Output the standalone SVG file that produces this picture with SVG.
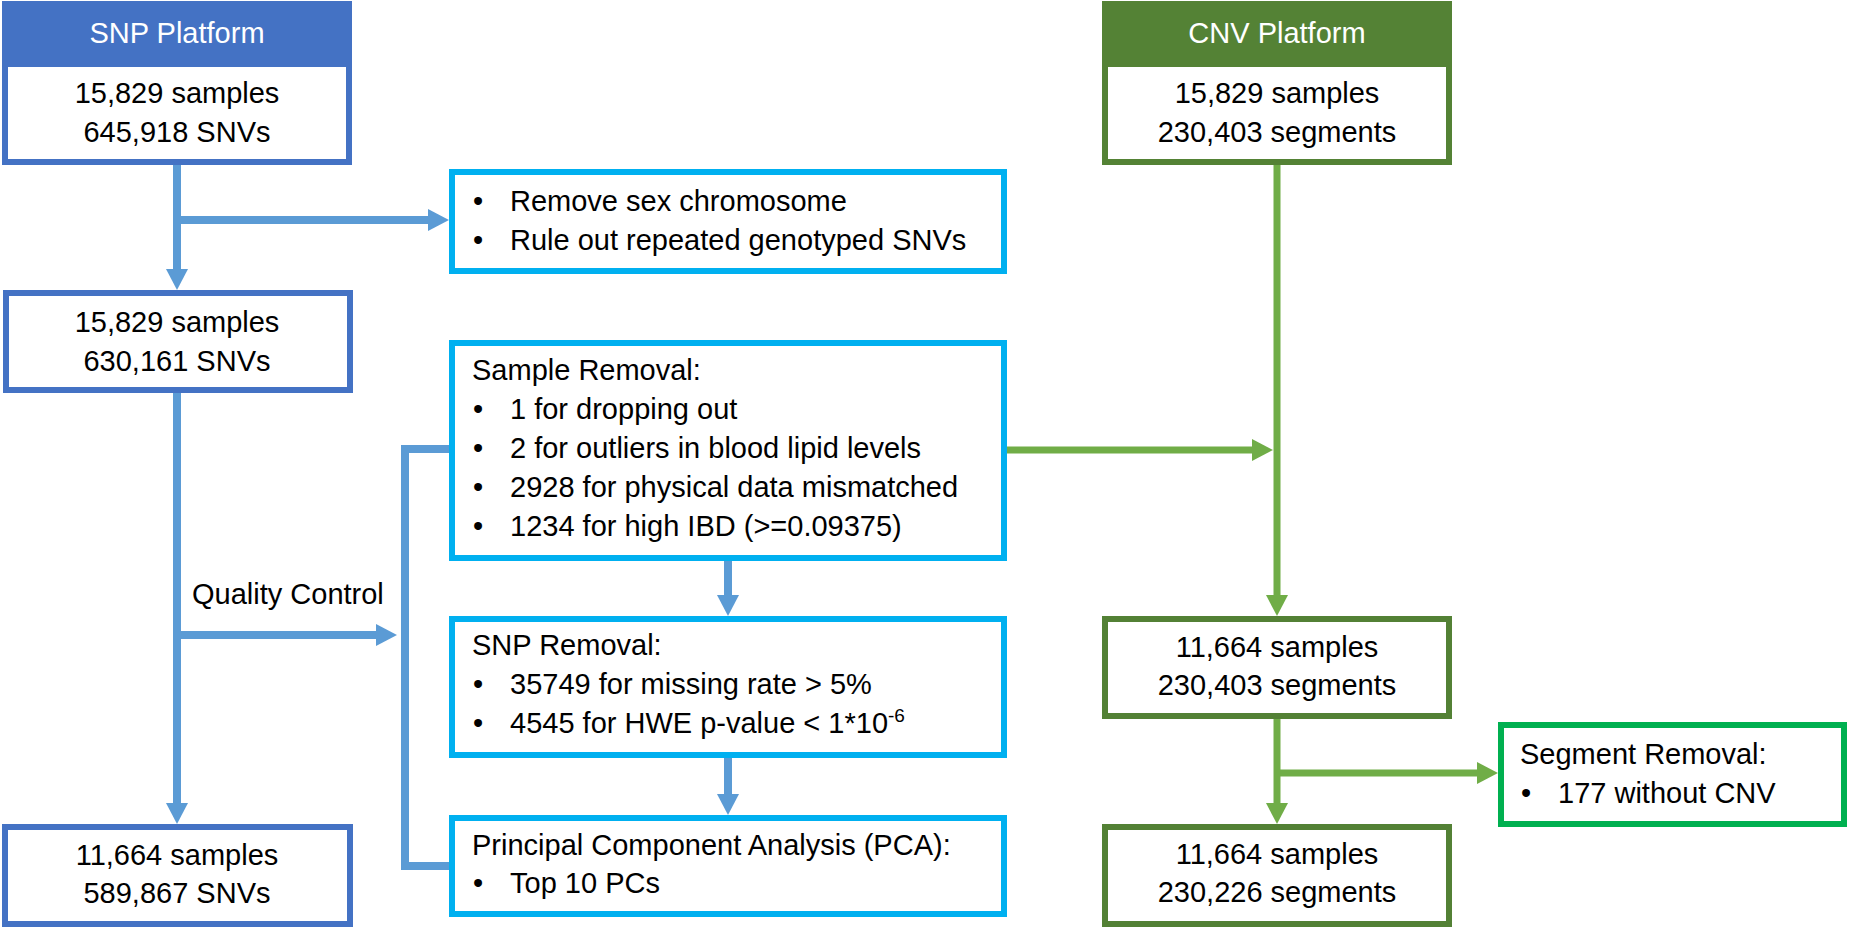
<svg xmlns="http://www.w3.org/2000/svg" width="1850" height="930" viewBox="0 0 1850 930">
<defs>
<style>
text{font-family:"Liberation Sans",Arial,sans-serif;font-size:29px;fill:#000}
.hdr{fill:#fff;text-anchor:middle}
.c{text-anchor:middle}
.snpbox{fill:#fff;stroke:#4472C4;stroke-width:6}
.cnvbox{fill:#fff;stroke:#538135;stroke-width:6}
.qcbox{fill:#fff;stroke:#00B0F0;stroke-width:6}
.segbox{fill:#fff;stroke:#00B050;stroke-width:6}
.bl{fill:none;stroke:#5B9BD5;stroke-width:8}
.gr{fill:none;stroke:#70AD47;stroke-width:7}
.ab{marker-end:url(#ahB)}
.ag{marker-end:url(#ahG)}
</style>
<marker id="ahB" markerUnits="userSpaceOnUse" markerWidth="21" markerHeight="22" viewBox="0 0 21 22" refX="11" refY="11" orient="auto">
<path d="M0,0 L21,11 L0,22 z" fill="#5B9BD5"/>
</marker>
<marker id="ahG" markerUnits="userSpaceOnUse" markerWidth="21" markerHeight="22" viewBox="0 0 21 22" refX="11" refY="11" orient="auto">
<path d="M0,0 L21,11 L0,22 z" fill="#70AD47"/>
</marker>
</defs>
<rect width="1850" height="930" fill="#fff"/>

<g id="connectors">
<line class="bl ab" x1="177" y1="165" x2="177" y2="280"/>
<line class="bl ab" x1="177" y1="220" x2="439" y2="220"/>
<line class="bl ab" x1="177" y1="393" x2="177" y2="814"/>
<line class="bl ab" x1="177" y1="635" x2="387" y2="635"/>
<path class="bl" d="M452,449 H405 V866 H452"/>
<line class="bl ab" x1="728" y1="560" x2="728" y2="606"/>
<line class="bl ab" x1="728" y1="757" x2="728" y2="805"/>
<line class="gr ag" x1="1277" y1="165" x2="1277" y2="606"/>
<line class="gr ag" x1="1007" y1="450" x2="1263" y2="450"/>
<line class="gr ag" x1="1277" y1="719" x2="1277" y2="814"/>
<line class="gr ag" x1="1277" y1="773" x2="1488" y2="773"/>
</g>

<g id="snp-platform">
<rect x="2" y="1" width="350" height="164" fill="#4472C4"/>
<rect x="8" y="67" width="338" height="92" fill="#fff"/>
<text class="hdr" x="177" y="43">SNP Platform</text>
<text class="c" x="177" y="103">15,829 samples</text>
<text class="c" x="177" y="142">645,918 SNVs</text>
</g>

<g id="snp-step2">
<rect class="snpbox" x="6" y="293" width="344" height="97"/>
<text class="c" x="177" y="332">15,829 samples</text>
<text class="c" x="177" y="371">630,161 SNVs</text>
</g>

<g id="snp-final">
<rect class="snpbox" x="5" y="827" width="345" height="97"/>
<text class="c" x="177" y="865">11,664 samples</text>
<text class="c" x="177" y="903">589,867 SNVs</text>
</g>

<g id="qc-label">
<text x="192" y="604">Quality Control</text>
</g>

<g id="remove-chrom">
<rect class="qcbox" x="452" y="172" width="552" height="99"/>
<text x="473" y="211">•</text>
<text x="510" y="211">Remove sex chromosome</text>
<text x="473" y="250">•</text>
<text x="510" y="250">Rule out repeated genotyped SNVs</text>
</g>

<g id="sample-removal">
<rect class="qcbox" x="452" y="343" width="552" height="215"/>
<text x="472" y="380">Sample Removal:</text>
<text x="473" y="419">•</text>
<text x="510" y="419">1 for dropping out</text>
<text x="473" y="458">•</text>
<text x="510" y="458">2 for outliers in blood lipid levels</text>
<text x="473" y="497">•</text>
<text x="510" y="497">2928 for physical data mismatched</text>
<text x="473" y="536">•</text>
<text x="510" y="536">1234 for high IBD (&gt;=0.09375)</text>
</g>

<g id="snp-removal">
<rect class="qcbox" x="452" y="619" width="552" height="136"/>
<text x="472" y="655">SNP Removal:</text>
<text x="473" y="694">•</text>
<text x="510" y="694">35749 for missing rate &gt; 5%</text>
<text x="473" y="733">•</text>
<text x="510" y="733">4545 for HWE p-value &lt; 1*10<tspan font-size="19" dy="-11">-6</tspan></text>
</g>

<g id="pca">
<rect class="qcbox" x="452" y="818" width="552" height="96"/>
<text x="472" y="855">Principal Component Analysis (PCA):</text>
<text x="473" y="893">•</text>
<text x="510" y="893">Top 10 PCs</text>
</g>

<g id="cnv-platform">
<rect x="1102" y="1" width="350" height="164" fill="#548235"/>
<rect x="1108" y="67" width="338" height="92" fill="#fff"/>
<text class="hdr" x="1277" y="43">CNV Platform</text>
<text class="c" x="1277" y="103">15,829 samples</text>
<text class="c" x="1277" y="142">230,403 segments</text>
</g>

<g id="cnv-step2">
<rect class="cnvbox" x="1105" y="619" width="344" height="97"/>
<text class="c" x="1277" y="657">11,664 samples</text>
<text class="c" x="1277" y="695">230,403 segments</text>
</g>

<g id="cnv-final">
<rect class="cnvbox" x="1105" y="827" width="344" height="97"/>
<text class="c" x="1277" y="864">11,664 samples</text>
<text class="c" x="1277" y="902">230,226 segments</text>
</g>

<g id="segment-removal">
<rect class="segbox" x="1501" y="725" width="343" height="99"/>
<text x="1520" y="764">Segment Removal:</text>
<text x="1521" y="803">•</text>
<text x="1558" y="803">177 without CNV</text>
</g>
</svg>
